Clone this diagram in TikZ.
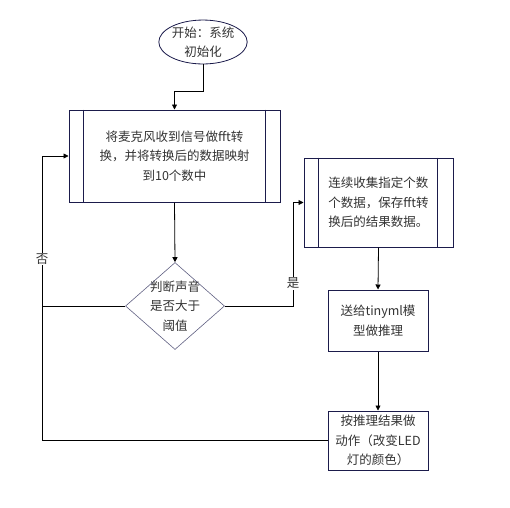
\documentclass[tikz,border=0pt]{standalone}
\usepackage{fontspec}
\setmainfont{Noto Sans CJK SC}
\usetikzlibrary{arrows.meta}
\usetikzlibrary{shapes.geometric}
\usetikzlibrary{calc}
\definecolor{navy}{HTML}{1B1B4B}
\definecolor{txt}{HTML}{333333}
\tikzset{
    arrow/.style={
        -{Triangle[length=5pt,width=5pt]},
        line width=0.8pt,
        draw=black
    }
}

\begin{document}
\begin{tikzpicture}[
    x=1pt, y=-1pt,
    font=\fontsize{12.5}{19.5}\selectfont,
    start_oval/.style={ellipse, draw=navy, line width=0.8pt, minimum width=76pt, minimum height=43pt, inner sep=0pt, align=center, text=txt},
    proc_box/.style={rectangle, draw=navy, line width=1pt, inner sep=0pt, align=center, text=txt},
    dec_shape/.style={diamond, draw=navy!70, line width=0.6pt, minimum width=99pt, minimum height=87pt, inner sep=0pt},
    branch_text/.style={fill=white, inner sep=1pt, text=txt}
]
    \useasboundingbox (0,0) rectangle (510,507);

    % Nodes
    \node (start) [start_oval] at (203,42) {开始：系统\\初始化};
    \node (fftbox) [proc_box, minimum width=211pt, minimum height=92pt] at (174.5,156) {将麦克风收到信号做fft转\\换，并将转换后的数据映射\\到10个数中};
    \node (check) [dec_shape, label={[text=txt, align=center]center:判断声音\\是否大于\\阈值}] at (175,306) {};
    \node (collect) [proc_box, minimum width=149pt, minimum height=89pt, align=left] at (378.5,202.5) {连续收集指定个数\\个数据，保存fft转\\换后的结果数据。};
    \node (infer) [proc_box, minimum width=100pt, minimum height=61pt] at (378,320.5) {送给tinyml模\\型做推理};
    \node (act) [proc_box, minimum width=100pt, minimum height=59pt] at (378,440.5) {按推理结果做\\动作（改变LED\\灯的颜色）};

    % Double side lines
    \draw[navy, line width=1pt] ([xshift=15pt]fftbox.north west) -- ([xshift=15pt]fftbox.south west);
    \draw[navy, line width=1pt] ([xshift=-15pt]fftbox.north east) -- ([xshift=-15pt]fftbox.south east);
    \draw[navy, line width=1pt] ([xshift=15pt]collect.north west) -- ([xshift=15pt]collect.south west);
    \draw[navy, line width=1pt] ([xshift=-16pt]collect.north east) -- ([xshift=-16pt]collect.south east);

    % Loop corners
    \coordinate (loopbot) at (42,440.5);
    \coordinate (yesturn) at (293,306);

    % Connectors
    \draw[arrow] (start.south) -- ++(0,27) -| (fftbox.north);
    \draw[arrow] (fftbox.south) -- (check.north);
    \draw[line width=0.8pt] (check.west) -- (check.west -| loopbot);
    \draw[arrow] (check.east) -- (yesturn) |- (collect.west);
    \draw[arrow] (collect.south) -- (infer.north);
    \draw[arrow] (infer.south) -- (act.north);
    \draw[arrow] (act.west) -- (loopbot) |- (fftbox.west);

    % Branch labels
    \node (nolabel) [branch_text] at (42,259) {否};
    \node (yeslabel) [branch_text] at (293,283) {是};

\end{tikzpicture}
\end{document}
